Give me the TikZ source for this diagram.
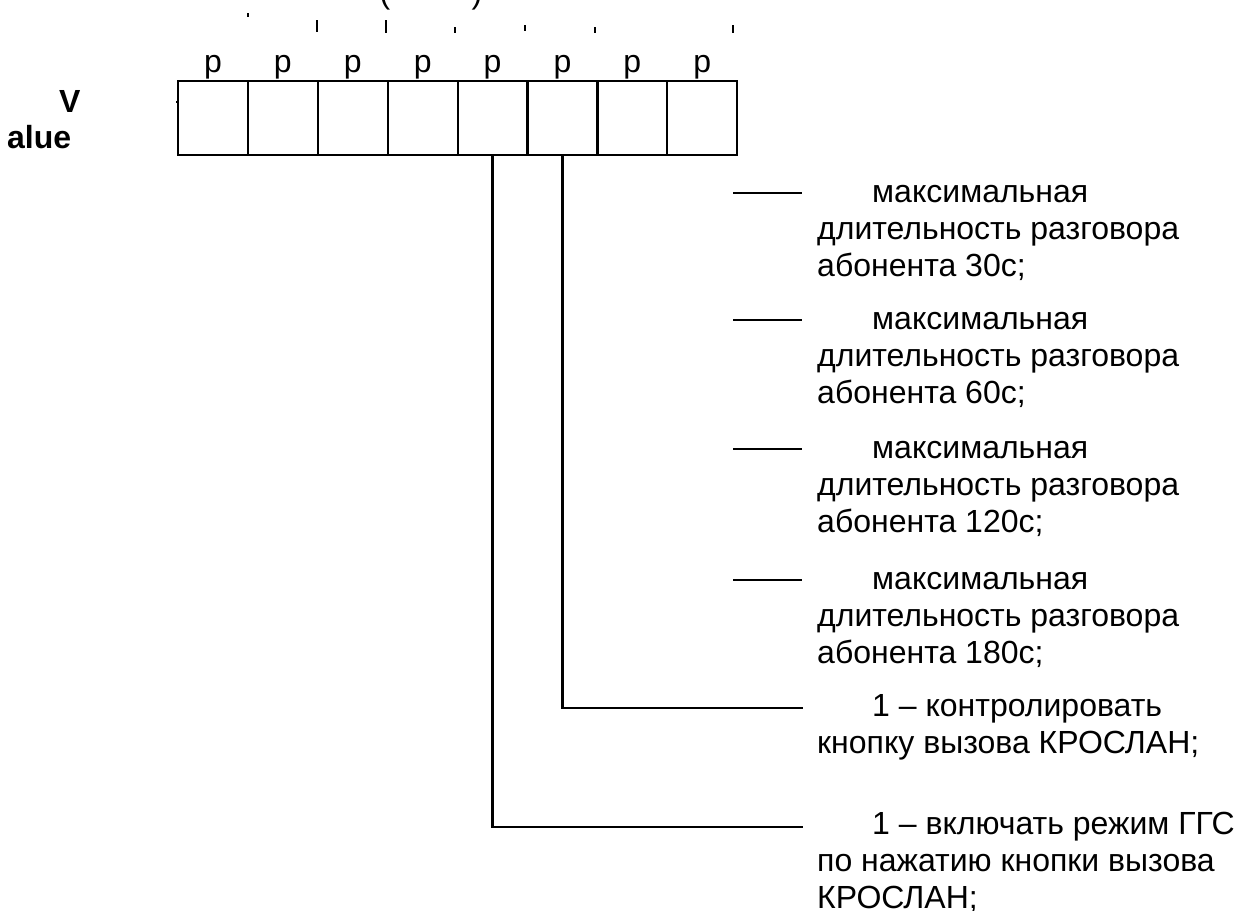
\documentclass[tikz,border=0pt]{standalone}
\usepackage{fontspec}
\setmainfont{Liberation Sans}
\usetikzlibrary{positioning}
\tikzstyle{cell} = [rectangle, draw, line width=2.2pt, minimum width=69.9pt, minimum height=74pt, inner sep=0pt]
\tikzstyle{bitlab} = [font=\fontsize{32}{37}\selectfont, inner sep=0pt, anchor=base]
\tikzstyle{vlab} = [font=\bfseries\fontsize{32}{37}\selectfont, inner sep=0pt, anchor=base west]
\tikzstyle{note} = [font=\fontsize{32}{37}\selectfont, align=left, inner sep=0pt, anchor=base west]
\tikzstyle{link} = [line width=2.2pt]
\tikzstyle{scrap} = [line width=1.2pt]

\begin{document}
\begin{tikzpicture}[x=1pt, y=-1pt]
\useasboundingbox (0,0) rectangle (1239,910);

% Clipped heading glyphs
\node[bitlab] (lpar) at (385,3) {(};
\node[bitlab] (rpar) at (477,3) {)};
\foreach \x/\ya/\yb in {248/13/17, 317/20/32, 386/20/33, 455/27/33, 525/25/31, 595/27/33, 733/25/33, 177/101/103}
  \draw[scrap] (\x,\ya) -- (\x,\yb);

% Register cells and bit labels
\foreach \i in {1,...,8}{
  \node[cell] (c\i) at ({178+69.9*(\i-0.5)},118) {};
  \node[bitlab] (p\i) at ({178+69.9*(\i-0.5)},72) {p};
}

% Register name
\node[vlab] (vhead) at (59,112) {V};
\node[vlab] (vtail) at (7,148) {alue};

% Value descriptions (anchored at the last line)
\node[note] (t1) at (817,276) {\hspace*{55pt}максимальная\\длительность разговора\\абонента 30с;};
\node[note] (t2) at (817,403) {\hspace*{55pt}максимальная\\длительность разговора\\абонента 60с;};
\node[note] (t3) at (817,532) {\hspace*{55pt}максимальная\\длительность разговора\\абонента 120с;};
\node[note] (t4) at (817,663) {\hspace*{55pt}максимальная\\длительность разговора\\абонента 180с;};
\node[note] (t5) at (817,753) {\hspace*{55pt}1 -- контролировать\\кнопку вызова КРОСЛАН;};
\node[note] (t6) at (817,908) {\hspace*{55pt}1 -- включать режим ГГС\\по нажатию кнопки вызова\\КРОСЛАН;};

% Short leaders
\foreach \k/\y in {1/193, 2/320, 3/449, 4/580}{
  \coordinate (da\k) at (733,\y);
  \coordinate (db\k) at (802,\y);
  \draw[link] (da\k) -- (db\k);
}

% Bit connectors
\coordinate (e5) at (803,708);
\coordinate (e6) at (803,827);
\draw[link] (c6.south) |- (e5);
\draw[link] (c5.south) |- (e6);
\end{tikzpicture}
\end{document}
